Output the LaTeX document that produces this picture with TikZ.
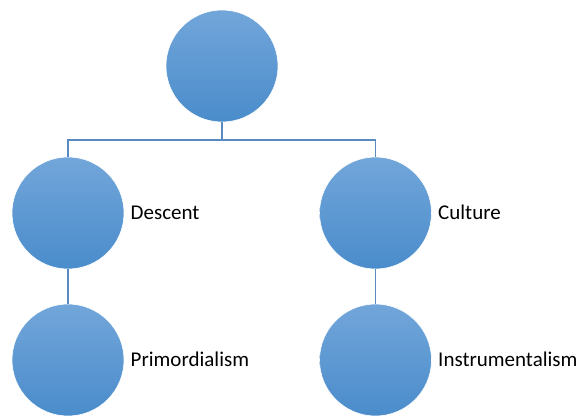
\documentclass[tikz,border=0pt]{standalone}
\usepackage{fontspec}
\setmainfont{Carlito}
\definecolor{circtop}{HTML}{72A6DA}
\definecolor{circmid}{HTML}{579CDB}
\definecolor{circbot}{HTML}{4A8CCB}
\definecolor{linkcol}{HTML}{5A8BC0}
\begin{document}
\begin{tikzpicture}[x=1pt,y=-1pt,
  bubble/.style={circle, minimum size=112pt, inner sep=0pt, top color=circtop, middle color=circmid, bottom color=circbot, draw=white, line width=0.6pt},
  link/.style={draw=linkcol, line width=1.4pt},
  lbl/.style={anchor=base west, inner sep=0pt, font=\fontsize{21}{25}\selectfont, text=black}]
\useasboundingbox (0,0) rectangle (580,415);
\node[bubble] (top) at (222,66) {};
\node[bubble] (d) at (68,213) {};
\node[bubble] (c) at (375.5,213) {};
\node[bubble] (p) at (68,360) {};
\node[bubble] (i) at (375.5,360) {};
\coordinate (j) at (222,140);
\draw[link] (top.south) -- (j);
\draw[link] (d.north) |- (j) -| (c.north);
\draw[link] (d) -- (p);
\draw[link] (c) -- (i);
\node[lbl] (dl) at (130.5,219.5) {Descent};
\node[lbl] (cl) at (438,219.5) {Culture};
\node[lbl] (pl) at (130.5,366.5) {Primordialism};
\node[lbl] (il) at (438,366.5) {Instrumentalism};
\end{tikzpicture}
\end{document}
